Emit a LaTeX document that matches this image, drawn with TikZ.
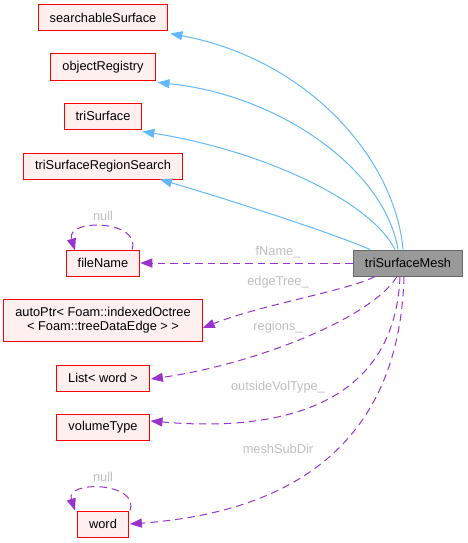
\documentclass[tikz,border=0pt]{standalone}
\usepackage{fontspec}
\setmainfont{Liberation Sans}
\usetikzlibrary{arrows.meta}

\definecolor{boxfill}{RGB}{255,240,240}
\definecolor{boxline}{RGB}{255,0,0}
\definecolor{mainfill}{RGB}{153,153,153}
\definecolor{mainline}{RGB}{102,102,102}
\definecolor{inhblue}{RGB}{99,184,255}
\definecolor{usepurple}{RGB}{154,50,205}
\definecolor{lblgrey}{RGB}{190,190,190}

\tikzset{every picture/.style={line width=1pt}}
\tikzset{
  classbox/.style={draw=boxline, fill=boxfill, minimum height=26, inner xsep=11.5, inner ysep=2, font=\fontsize{12.8}{14.5}\selectfont},
  mainbox/.style={classbox, draw=mainline, fill=mainfill},
  inherit/.style={color=inhblue, -{Triangle[length=12,width=9]}},
  member/.style={color=usepurple, dash pattern=on 7.5pt off 5pt, -{Triangle[length=12,width=9]}},
  edgelbl/.style={text=lblgrey, font=\fontsize{12.8}{14.5}\selectfont}
}

\begin{document}
\begin{tikzpicture}[x=1pt,y=1pt,yscale=-1]
	\useasboundingbox (0,0) rectangle (468,543);

	% Class Nodes
	\node [classbox] (ss) at (103,18) {searchableSurface};
	\node [classbox] (or) at (103,67) {objectRegistry};
	\node [classbox] (ts) at (103,116) {triSurface};
	\node [classbox] (trs) at (103,166) {triSurfaceRegionSearch};
	\node [classbox] (fn) at (103,263) {fileName};
	\node [classbox, align=center, minimum height=42] (ap) at (103,320) {autoPtr< Foam::indexedOctree\\< Foam::treeDataEdge > >};
	\node [classbox] (lw) at (103,378) {List< word >};
	\node [classbox] (vt) at (103,427) {volumeType};
	\node [classbox] (wd) at (103,524) {word};
	\node [mainbox] (tm) at (408,263) {triSurfaceMesh};

	%Curve Lines (base classes)
	\draw [inherit] ([xshift=-5pt]tm.north) .. controls (395,160) and (310,60) .. ([xshift=2pt,yshift=2pt]ss.south east);
	\draw [inherit] ([xshift=-10pt]tm.north) .. controls (385,170) and (280,95) .. ([xshift=2pt,yshift=2pt]or.south east);
	\draw [inherit] ([xshift=-13pt]tm.north) .. controls (370,200) and (260,150) .. ([yshift=2pt]ts.south east);
	\draw [inherit] ([xshift=-38pt]tm.north) .. controls (330,232) and (220,197) .. ([xshift=-23pt]trs.south east);

	%Curve Lines (members)
	\draw [member] (tm.west) -- (fn.east);
	\draw [member] ([xshift=-33pt]tm.south) .. controls (350,290) and (260,305) .. ([yshift=8pt]ap.east);
	\draw [member] ([xshift=-11pt]tm.south) .. controls (370,320) and (250,365) .. ([xshift=1pt,yshift=1pt]lw.east);
	\draw [member] ([xshift=-8pt]tm.south) .. controls (395,400) and (290,433) .. ([xshift=1pt,yshift=-6pt]vt.east);
	\draw [member] ([xshift=-4pt]tm.south) .. controls (400,420) and (320,510) .. ([xshift=1pt]wd.east);

	%Self loops
	\draw [member] ([xshift=29pt]fn.north) .. controls (142,220) and (65,218) .. ([xshift=-28pt,yshift=1pt]fn.north);
	\draw [member] ([xshift=27pt]wd.north) .. controls (140,482) and (65,480) .. ([xshift=-28pt]wd.north);

	% Text Node
	\node [edgelbl] (lfn) at (278,252) {fName\_};
	\node [edgelbl] (let) at (278,282) {edgeTree\_};
	\node [edgelbl] (lrg) at (278,327) {regions\_};
	\node [edgelbl] (lov) at (278,387) {outsideVolType\_};
	\node [edgelbl] (lms) at (278,449) {meshSubDir};
	\node [edgelbl] (lnf) at (103,216) {null};
	\node [edgelbl] (lnw) at (103,477) {null};

\end{tikzpicture}
\end{document}
